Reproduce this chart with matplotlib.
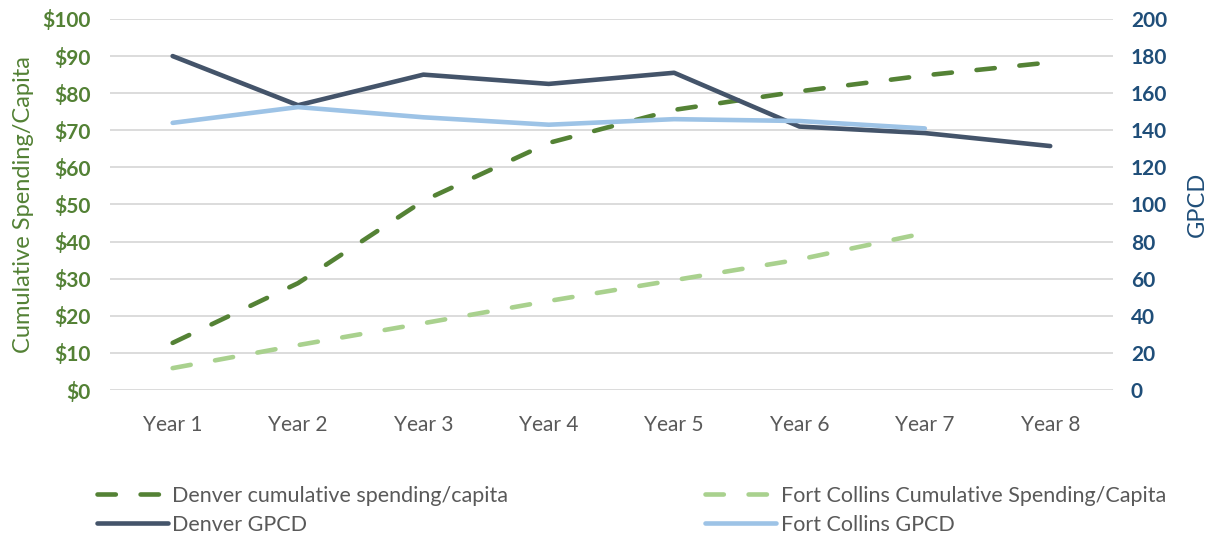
import matplotlib
matplotlib.use("Agg")
import matplotlib.pyplot as plt
from matplotlib.ticker import FuncFormatter

years = ["Year 1", "Year 2", "Year 3", "Year 4", "Year 5", "Year 6", "Year 7", "Year 8"]
denver_spend = [12.7, 28.8, 51.0, 66.6, 75.5, 80.5, 84.8, 88.3]
fc_spend = [5.9, 12.1, 18.0, 24.0, 29.6, 35.2, 42.3]
denver_gpcd = [180, 153.5, 170, 165, 171, 142, 138.5, 131.5]
fc_gpcd = [144, 152.5, 147, 143, 146, 145, 141]

GREEN = "#548235"
LIGHT_GREEN = "#A9D18E"
DARK_BLUE = "#44546A"
LIGHT_BLUE = "#9DC3E6"
TICK_GREEN = "#538135"
TICK_BLUE = "#1F4E79"

plt.rcParams['font.family'] = ['Lato', 'DejaVu Sans']

fig = plt.figure(figsize=(12.11, 5.42), dpi=100)
ax = fig.add_axes([0.0908, 0.2804, 0.8282, 0.6846])
ax2 = ax.twinx()

x = list(range(len(years)))
DASH = (4.0, 5.4)
ax.plot(x, denver_spend, color=GREEN, lw=3.3, dashes=DASH,
        dash_capstyle="round", label="Denver cumulative spending/capita")
ax.plot(x[:len(fc_spend)], fc_spend, color=LIGHT_GREEN, lw=3.3, dashes=DASH,
        dash_capstyle="round", label="Fort Collins Cumulative Spending/Capita")
ax2.plot(x, denver_gpcd, color=DARK_BLUE, lw=3.3, solid_capstyle="round",
         label="Denver GPCD")
ax2.plot(x[:len(fc_gpcd)], fc_gpcd, color=LIGHT_BLUE, lw=3.3, solid_capstyle="round",
         label="Fort Collins GPCD")

ax.set_xlim(-0.5, len(years) - 0.5)
ax.set_ylim(0, 100)
ax2.set_ylim(0, 200)
ax.set_yticks(range(0, 101, 10))
ax2.set_yticks(range(0, 201, 20))
ax.yaxis.set_major_formatter(FuncFormatter(lambda v, p: f"${v:.0f}"))

ax.grid(axis="y", color="#D9D9D9", lw=1.3)
ax.set_axisbelow(True)
for a in (ax, ax2):
    for s in a.spines.values():
        s.set_visible(False)
    a.tick_params(length=0)

ax.set_xticks(x)
ax.set_xticklabels(years, color="#595959", fontsize=15)
ax.tick_params(axis="x", pad=18)
ax.tick_params(axis="y", pad=14)
ax2.tick_params(axis="y", pad=13)
for t in ax.get_yticklabels():
    t.set_color(TICK_GREEN)
    t.set_fontweight("bold")
    t.set_fontsize(15)
for t in ax2.get_yticklabels():
    t.set_color(TICK_BLUE)
    t.set_fontweight("bold")
    t.set_fontsize(15)

ax.set_ylabel("Cumulative Spending/Capita", color=TICK_GREEN, fontsize=17, labelpad=6)
ax2.set_ylabel("GPCD", color=TICK_BLUE, fontsize=17, labelpad=14)

h1, l1 = ax.get_legend_handles_labels()
h2, l2 = ax2.get_legend_handles_labels()
handles = [h1[0], h2[0], h1[1], h2[1]]
labels = [l1[0], l2[0], l1[1], l2[1]]
fig.legend(handles, labels, ncol=2, loc="lower left", bbox_to_anchor=(0.064, -0.022),
           frameon=False, fontsize=15.5, labelcolor="#595959", handlelength=3.3,
           handletextpad=0.2, columnspacing=9.15, labelspacing=0.4)

fig.savefig("out.png", dpi=100)
